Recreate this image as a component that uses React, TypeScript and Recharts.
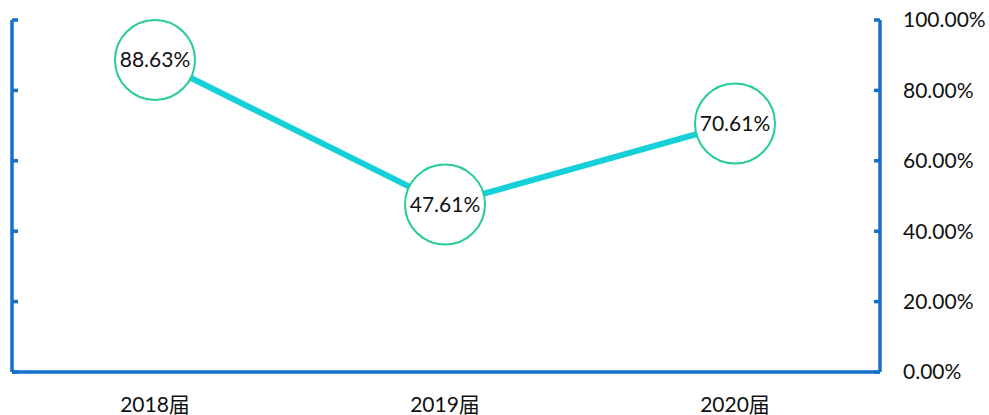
import { LineChart, Line, XAxis, YAxis, LabelList } from 'recharts';

const years = ['2018届', '2019届', '2020届'];
const rates = [88.63, 47.61, 70.61];
const yTicks = [0, 20, 40, 60, 80, 100];

const AXIS_BLUE = '#1570C8';
const FONT = 'Lato, "Noto Sans CJK SC", sans-serif';

const data = years.map((year, i) => ({ year, rate: rates[i] }));

const pct = (v: number) => `${Number(v).toFixed(2)}%`;

export default function App() {
  return (
    <div style={{ position: 'absolute', left: 0, top: 0, background: '#fff' }}>
      <LineChart
        width={989}
        height={415}
        data={data}
        margin={{ top: 20, right: 0, bottom: 0, left: 0 }}
        style={{ fontFamily: FONT }}
      >
        <XAxis
          dataKey="year"
          height={43}
          padding={{ left: 143, right: 145 }}
          axisLine={{ stroke: AXIS_BLUE, strokeWidth: 3.5 }}
          tickLine={false}
          tickSize={0}
          tickMargin={25}
          tick={{ fontSize: 21, fill: '#111', fontFamily: FONT }}
        />
        {/* left axis: no series on it, so fix its domain; inward ticks, no labels */}
        <YAxis
          yAxisId="left"
          orientation="left"
          type="number"
          width={12}
          domain={[0, 100]}
          allowDataOverflow
          ticks={yTicks}
          tickFormatter={() => ''}
          tickSize={-6}
          axisLine={{ stroke: AXIS_BLUE, strokeWidth: 3.5 }}
          tickLine={{ stroke: AXIS_BLUE, strokeWidth: 3.5 }}
        />
        <YAxis
          yAxisId="right"
          orientation="right"
          width={109}
          domain={[0, 100]}
          ticks={yTicks}
          tickFormatter={pct}
          tickSize={-6}
          tickMargin={29}
          tick={{ fontSize: 21, fill: '#111', fontFamily: FONT }}
          axisLine={{ stroke: AXIS_BLUE, strokeWidth: 3.5 }}
          tickLine={{ stroke: AXIS_BLUE, strokeWidth: 3.5 }}
        />
        <Line
          yAxisId="right"
          type="linear"
          dataKey="rate"
          stroke="#15CFD9"
          strokeWidth={6}
          dot={{ r: 40, fill: '#fff', stroke: '#26CC96', strokeWidth: 2 }}
          activeDot={false}
          isAnimationActive={false}
        >
          <LabelList
            dataKey="rate"
            position="center"
            formatter={(v: any) => pct(v)}
            style={{ fontSize: 21, fill: '#111', fontFamily: FONT }}
          />
        </Line>
      </LineChart>
    </div>
  );
}
